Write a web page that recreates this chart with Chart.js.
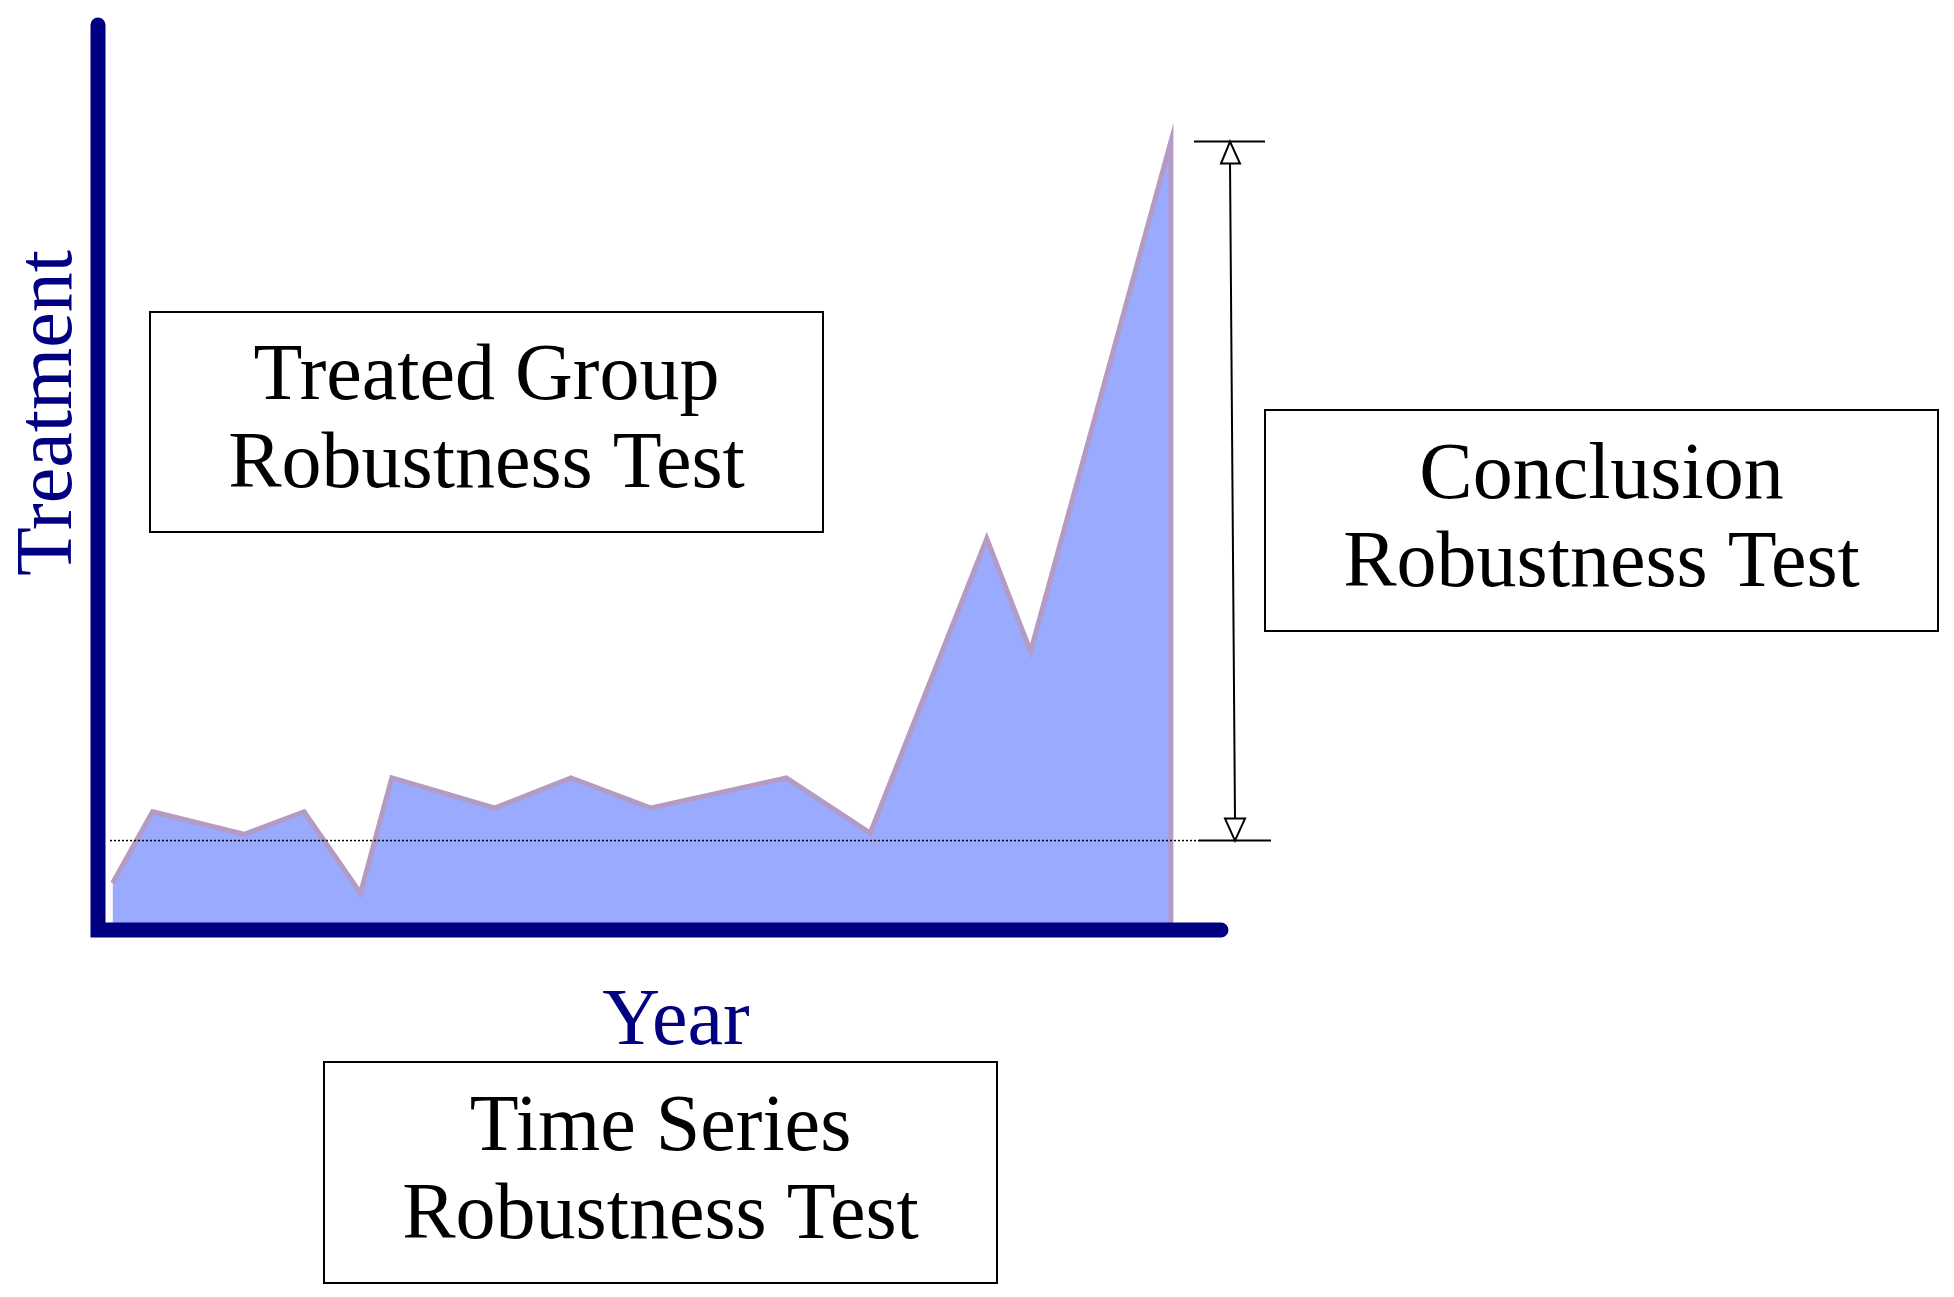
<!DOCTYPE html>
<html>
<head>
<meta charset="utf-8">
<script src="https://cdn.jsdelivr.net/npm/chart.js@4"></script>
<style>
  body { margin: 0; background: #fff; }
  #chart { display: block; }
</style>
</head>
<body>
<canvas id="chart" width="1954" height="1297"></canvas>
<script>
// pseudo time positions and treatment values
const years = [10, 42, 115, 163, 208, 233, 315, 376, 440, 548, 615, 708, 743, 855, 855];
const treatment = [35, 92, 74, 92, 27, 119, 95, 119, 95, 119, 75, 310, 220, 627, 0];
const baselineValue = 69;
const peakValue = 627;
const xMax = 895;
const yMax = 720;

const navy = '#000080';
const font = '"Liberation Serif", "Times New Roman", serif';

const overlay = {
  id: 'overlay',
  afterDatasetsDraw(chart) {
    const ctx = chart.ctx;
    const x = chart.scales.x, y = chart.scales.y;
    const left = x.getPixelForValue(0), right = x.getPixelForValue(xMax);
    const bottom = y.getPixelForValue(0), top = y.getPixelForValue(yMax);
    const yBase = y.getPixelForValue(baselineValue);
    const yPeak = y.getPixelForValue(peakValue);

    ctx.save();
    // dotted baseline
    ctx.strokeStyle = '#000';
    ctx.lineWidth = 1.5;
    ctx.setLineDash([2, 2]);
    ctx.beginPath();
    ctx.moveTo(left + 10, yBase);
    ctx.lineTo(1202, yBase);
    ctx.stroke();
    ctx.setLineDash([]);

    // axes
    ctx.strokeStyle = navy;
    ctx.lineWidth = 15;
    ctx.lineCap = 'round';
    ctx.beginPath();
    ctx.moveTo(left - 2, top);
    ctx.lineTo(left - 2, bottom + 3);
    ctx.lineTo(right, bottom + 3);
    ctx.stroke();

    // dimension arrow
    ctx.lineCap = 'butt';
    ctx.strokeStyle = '#000';
    ctx.lineWidth = 2;
    ctx.beginPath();
    ctx.moveTo(1194, yPeak); ctx.lineTo(1265, yPeak);
    ctx.moveTo(1199, yBase); ctx.lineTo(1271, yBase);
    ctx.moveTo(1230, yPeak + 20); ctx.lineTo(1235, yBase - 20);
    ctx.stroke();
    ctx.fillStyle = '#fff';
    ctx.beginPath();
    ctx.moveTo(1230, yPeak); ctx.lineTo(1221, yPeak + 22); ctx.lineTo(1240, yPeak + 22); ctx.closePath();
    ctx.fill(); ctx.stroke();
    ctx.beginPath();
    ctx.moveTo(1235, yBase); ctx.lineTo(1225, yBase - 22); ctx.lineTo(1245, yBase - 22); ctx.closePath();
    ctx.fill(); ctx.stroke();

    // text boxes
    const boxes = [
      [150, 312, 673, 220, 'Treated Group', 'Robustness Test'],
      [1265, 410, 673, 221, 'Conclusion', 'Robustness Test'],
      [324, 1062, 673, 221, 'Time Series', 'Robustness Test']
    ];
    ctx.font = '80px ' + font;
    ctx.textAlign = 'center';
    ctx.textBaseline = 'middle';
    boxes.forEach(([bx, by, bw, bh, l1, l2]) => {
      ctx.strokeStyle = '#000';
      ctx.lineWidth = 2;
      ctx.strokeRect(bx, by, bw, bh);
      ctx.fillStyle = '#000';
      ctx.fillText(l1, bx + bw / 2, by + bh / 2 - 44);
      ctx.fillText(l2, bx + bw / 2, by + bh / 2 + 44);
    });

    // axis titles
    ctx.fillStyle = navy;
    ctx.fillText('Year', 676, 1023);
    ctx.translate(50, 413);
    ctx.rotate(-Math.PI / 2);
    ctx.fillText('Treatment', 0, 0);
    ctx.restore();
  }
};

new Chart(document.getElementById('chart'), {
  type: 'line',
  data: {
    datasets: [{
      data: years.map((v, i) => ({ x: v, y: treatment[i] })),
      fill: 'origin',
      backgroundColor: '#99aaff',
      borderColor: '#b39bc4',
      borderWidth: 5,
      pointRadius: 0,
      tension: 0
    }]
  },
  options: {
    responsive: false,
    animation: false,
    layout: { padding: { left: 100, top: 25, right: 733, bottom: 370 } },
    plugins: { legend: { display: false }, tooltip: { enabled: false } },
    scales: {
      x: { type: 'linear', min: 0, max: xMax, display: false },
      y: { min: 0, max: yMax, display: false }
    }
  },
  plugins: [overlay]
});
</script>
</body>
</html>
